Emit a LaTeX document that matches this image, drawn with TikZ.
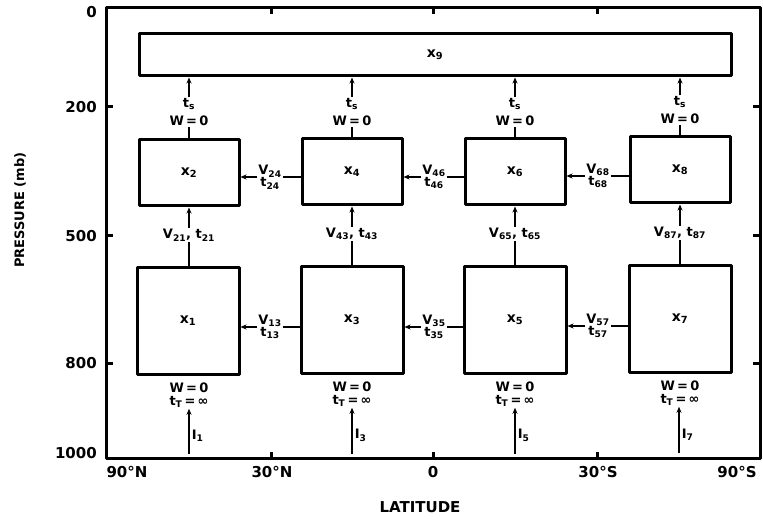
\documentclass[tikz,border=0pt]{standalone}
\usepackage{fontspec}
\setmainfont{DejaVu Sans}
\usetikzlibrary{arrows.meta,positioning}

\begin{document}
\begin{tikzpicture}[x=1pt, y=-1pt, line join=round,
  every node/.style={font=\bfseries\fontsize{13}{14}\selectfont, align=center, inner sep=1pt},
  box/.style={draw, line width=3pt, inner sep=0pt, font=\bfseries\fontsize{14}{15}\selectfont},
  upbox/.style={box, minimum width=100pt, minimum height=66pt},
  lowbox/.style={box, minimum width=102pt, minimum height=107pt},
  axlab/.style={font=\bfseries\fontsize{15}{16}\selectfont},
  arr/.style={-{Stealth[length=6pt,width=5pt]}, line width=1.5pt},
  stub/.style={line width=1.5pt}]
  \useasboundingbox (0,0) rectangle (763,521);

  % frame and ticks
  \draw[line width=3pt] (106,8) rectangle (760,458);
  \draw[line width=3pt] (106,107) -- (113,107) (106,236) -- (113,236) (106,363) -- (113,363);
  \draw[line width=3pt] (760,107) -- (753,107) (760,236) -- (753,236) (760,363) -- (753,363);
  \draw[line width=3pt] (271,458) -- (271,452) (433,458) -- (433,452) (597,458) -- (597,452);
  \draw[line width=3pt] (271,8) -- (271,14) (433,8) -- (433,14) (597,8) -- (597,14);
  \node[axlab, anchor=east] (p0) at (98,12) {0};
  \node[axlab, anchor=east] (p200) at (98,107) {200};
  \node[axlab, anchor=east] (p500) at (98,236) {500};
  \node[axlab, anchor=east] (p800) at (98,363) {800};
  \node[axlab, anchor=east] (p1000) at (98,453) {1000};
  \node[axlab] (l90n) at (127,472) {90°N};
  \node[axlab] (l30n) at (272,472) {30°N};
  \node[axlab] (l0) at (433,472) {0};
  \node[axlab] (l30s) at (598,472) {30°S};
  \node[axlab] (l90s) at (737,472) {90°S};
  \node[axlab] (lat) at (420,507) {LATITUDE};
  \node[axlab, rotate=90, font=\bfseries\fontsize{13}{14}\selectfont] (pres) at (20,210) {PRESSURE (mb)};

  % boxes
  \node[box, minimum width=592pt, minimum height=42pt] (x9) at (435,55) {x\textsubscript{9}};
  \node[upbox] (x2) at (189,173) {x\textsubscript{2}};
  \node[upbox] (x4) at (352,172) {x\textsubscript{4}};
  \node[upbox] (x6) at (515,172) {x\textsubscript{6}};
  \node[upbox] (x8) at (680,170) {x\textsubscript{8}};
  \node[lowbox] (x1) at (188,321) {x\textsubscript{1}};
  \node[lowbox] (x3) at (352,320) {x\textsubscript{3}};
  \node[lowbox] (x5) at (515,320) {x\textsubscript{5}};
  \node[lowbox] (x7) at (680,319) {x\textsubscript{7}};

  % upward fluxes into x9
  \node (w2) at (189,121) {W\,=\,0};
  \node (ts2) at (189,104) {t\textsubscript{s}};
  \node (w4) at (352,121) {W\,=\,0};
  \node (ts4) at (352,104) {t\textsubscript{s}};
  \node (w6) at (515,121) {W\,=\,0};
  \node (ts6) at (515,104) {t\textsubscript{s}};
  \node (w8) at (680,119) {W\,=\,0};
  \node (ts8) at (680,102) {t\textsubscript{s}};
  \draw[stub] (x2.north) -- (w2); \draw[arr] (ts2.north) -- (x9.south -| ts2);
  \draw[stub] (x4.north) -- (w4); \draw[arr] (ts4.north) -- (x9.south -| ts4);
  \draw[stub] (x6.north) -- (w6); \draw[arr] (ts6.north) -- (x9.south -| ts6);
  \draw[stub] (x8.north) -- (w8); \draw[arr] (ts8.north) -- (x9.south -| ts8);

  % vertical exchange lower -> upper
  \node (v21) at (189,235) {V\textsubscript{21}, t\textsubscript{21}};
  \node (v43) at (352,234) {V\textsubscript{43}, t\textsubscript{43}};
  \node (v65) at (515,234) {V\textsubscript{65}, t\textsubscript{65}};
  \node (v87) at (680,233) {V\textsubscript{87}, t\textsubscript{87}};
  \draw[stub] (x1.north -| v21) -- (v21); \draw[arr] (v21.north) -- (x2.south);
  \draw[stub] (x3.north) -- (v43); \draw[arr] (v43.north) -- (x4.south);
  \draw[stub] (x5.north) -- (v65); \draw[arr] (v65.north) -- (x6.south);
  \draw[stub] (x7.north) -- (v87); \draw[arr] (v87.north) -- (x8.south);

  % horizontal exchange, upper row
  \node (v24) at (270,177) {V\textsubscript{24}\\[-2pt]t\textsubscript{24}};
  \node (v46) at (434,177) {V\textsubscript{46}\\[-2pt]t\textsubscript{46}};
  \node (v68) at (598,176) {V\textsubscript{68}\\[-2pt]t\textsubscript{68}};
  \draw[stub] (v24.east) -- (x4.west |- v24); \draw[arr] (v24.west) -- (x2.east |- v24);
  \draw[stub] (v46.east) -- (x6.west |- v46); \draw[arr] (v46.west) -- (x4.east |- v46);
  \draw[stub] (v68.east) -- (x8.west |- v68); \draw[arr] (v68.west) -- (x6.east |- v68);

  % horizontal exchange, lower row
  \node (v13) at (270,327) {V\textsubscript{13}\\[-2pt]t\textsubscript{13}};
  \node (v35) at (434,327) {V\textsubscript{35}\\[-2pt]t\textsubscript{35}};
  \node (v57) at (598,326) {V\textsubscript{57}\\[-2pt]t\textsubscript{57}};
  \draw[stub] (v13.east) -- (x3.west |- v13); \draw[arr] (v13.west) -- (x1.east |- v13);
  \draw[stub] (v35.east) -- (x5.west |- v35); \draw[arr] (v35.west) -- (x3.east |- v35);
  \draw[stub] (v57.east) -- (x7.west |- v57); \draw[arr] (v57.west) -- (x5.east |- v57);

  % surface conditions and inputs
  \node (wb1) at (189,395) {W\,=\,0\\[-1pt]t\textsubscript{T}\,=\,∞};
  \node (wb3) at (352,394) {W\,=\,0\\[-1pt]t\textsubscript{T}\,=\,∞};
  \node (wb5) at (515,394) {W\,=\,0\\[-1pt]t\textsubscript{T}\,=\,∞};
  \node (wb7) at (680,393) {W\,=\,0\\[-1pt]t\textsubscript{T}\,=\,∞};
  \coordinate (g1) at (189,454);
  \coordinate (g3) at (352,454);
  \coordinate (g5) at (515,454);
  \coordinate (g7) at (679,453);
  \draw[arr] (g1) -- (g1 |- wb1.south) node[pos=0.4, right=1pt] (i1) {I\textsubscript{1}};
  \draw[arr] (g3) -- (g3 |- wb3.south) node[pos=0.4, right=1pt] (i3) {I\textsubscript{3}};
  \draw[arr] (g5) -- (g5 |- wb5.south) node[pos=0.4, right=1pt] (i5) {I\textsubscript{5}};
  \draw[arr] (g7) -- (g7 |- wb7.south) node[pos=0.4, right=1pt] (i7) {I\textsubscript{7}};
\end{tikzpicture}
\end{document}
